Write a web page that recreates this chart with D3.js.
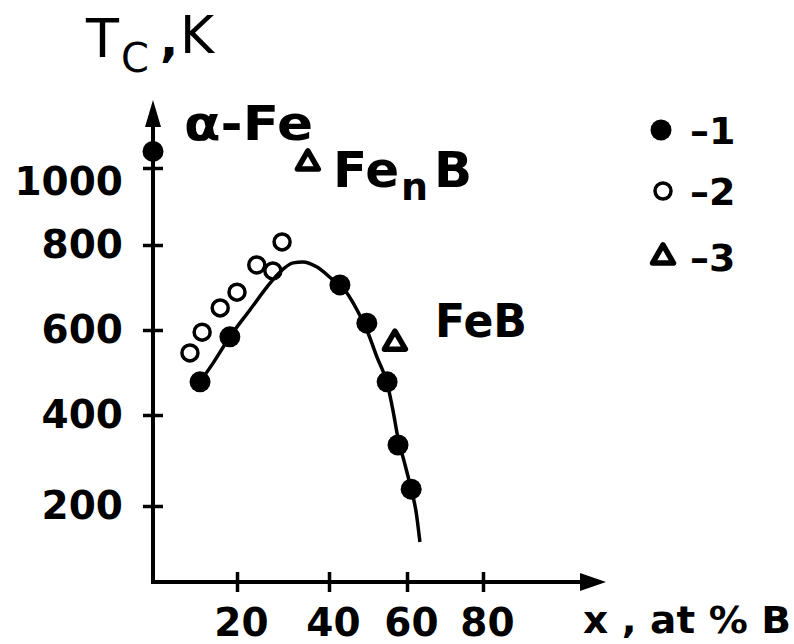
<!DOCTYPE html>
<html><head><meta charset="utf-8">
<script src="https://cdn.jsdelivr.net/npm/d3@7"></script>
<style>body{margin:0;background:#fff}svg{display:block}</style>
</head><body><svg id="c" width="794" height="644"></svg>
<script>
// ---- data ----
const xTickValues = [20, 40, 60, 80];
const yTickValues = [200, 400, 600, 800, 1000];
// series 1 (filled circles)
const series1X = [0, 11.2, 18.3, 42.8, 49.7, 54.9, 57.7, 61.1];
const series1Y = [1043, 478, 584, 706, 616, 478, 334, 237];
// series 2 (open circles)
const series2X = [8.8, 11.7, 16.0, 20.0, 24.3, 27.8, 29.8];
const series2Y = [546, 595, 652, 689, 753, 739, 808];
// series 3 (open triangles): Fe_nB, FeB
const series3X = [35.4, 56.9];
const series3Y = [1013, 569];
// fitted curve
const fitX = [11.2, 14.3, 18.3, 22.8, 26.5, 29.3, 32.2, 34.3, 37.4, 41.0, 43.6, 47.2, 49.7, 52.3, 54.9, 56.4, 57.7, 59.3, 61.1, 62.4, 63.4];
const fitY = [478, 522, 584, 647, 701, 736, 758, 760, 748, 718, 699, 647, 600, 536, 475, 411, 349, 297, 237, 187, 121];
const legendLabels = ["–1", "–2", "–3"];
const xAxisTitle = "x , at % B";

// ---- scales (hand-drawn original axes are unevenly spaced) ----
const x = d3.scaleLinear().domain([0, 20, 40, 60, 80]).range([153, 237, 329, 407, 483]);
const y = d3.scaleLinear().domain([200, 400, 600, 800, 1000]).range([506, 415, 330, 245, 168]);

const svg = d3.select("#c");
svg.append("rect").attr("width", 794).attr("height", 644).attr("fill", "#fff");
const FONT = "'DejaVu Sans', sans-serif";

// ---- axes ----
const x0 = x(0), yBase = 582;
svg.append("line").attr("x1", x0).attr("x2", x0).attr("y1", yBase + 2).attr("y2", 112)
  .attr("stroke", "#000").attr("stroke-width", 4);
svg.append("path").attr("d", `M${x0},100 L${x0-8},127 L${x0+8},127 Z`).attr("fill", "#000");
svg.append("line").attr("x1", x0 - 2).attr("x2", 590).attr("y1", yBase).attr("y2", yBase)
  .attr("stroke", "#000").attr("stroke-width", 4);
svg.append("path").attr("d", `M606,${yBase} L580,${yBase-9} L580,${yBase+9} Z`).attr("fill", "#000");

const gy = svg.append("g").attr("transform", `translate(${x0},0)`)
  .call(d3.axisLeft(y).tickValues(yTickValues).tickSize(10).tickPadding(20).tickFormat(d3.format("d")));
gy.select(".domain").remove();
gy.selectAll(".tick line").attr("x1", -10).attr("x2", 10).attr("stroke-width", 3.5);
gy.selectAll(".tick text").attr("font-family", FONT).attr("font-weight", "bold")
  .attr("font-size", 39).attr("fill", "#000")
  .attr("transform", d => d === 1000 ? "translate(0,14)" : null);

const gx = svg.append("g").attr("transform", `translate(0,${yBase})`)
  .call(d3.axisBottom(x).tickValues(xTickValues).tickSize(10).tickPadding(16));
gx.select(".domain").remove();
gx.selectAll(".tick line").attr("y1", -10).attr("y2", 10).attr("stroke-width", 3.5);
gx.selectAll(".tick text").attr("font-family", FONT).attr("font-weight", "bold")
  .attr("font-size", 39).attr("fill", "#000").attr("dx", 4);

// ---- titles ----
const tl = svg.append("text").attr("font-family", FONT).attr("fill", "#000");
tl.append("tspan").attr("x", 86).attr("y", 57).attr("font-size", 54).text("T");
tl.append("tspan").attr("x", 121).attr("y", 72).attr("font-size", 40).text("C");
tl.append("tspan").attr("x", 160).attr("y", 56).attr("font-size", 48).attr("font-weight", "bold").text(",");
tl.append("tspan").attr("x", 180).attr("y", 53).attr("font-size", 52).text("K");

svg.append("text").attr("x", 583).attr("y", 633).attr("font-family", FONT).attr("font-weight", "bold")
  .attr("font-size", 38).attr("textLength", 208).attr("lengthAdjust", "spacingAndGlyphs").text(xAxisTitle);

// ---- phase labels ----
svg.append("text").attr("x", 184).attr("y", 140).attr("font-family", FONT).attr("font-weight", "bold")
  .attr("font-size", 48).attr("textLength", 129).attr("lengthAdjust", "spacingAndGlyphs").text("α-Fe");
const fn = svg.append("text").attr("font-family", FONT).attr("font-weight", "bold").attr("fill", "#000");
fn.append("tspan").attr("x", 333).attr("y", 187).attr("font-size", 50).text("Fe");
fn.append("tspan").attr("x", 401).attr("y", 200).attr("font-size", 38).text("n");
fn.append("tspan").attr("x", 434).attr("y", 187).attr("font-size", 50).text("B");
svg.append("text").attr("x", 435).attr("y", 337).attr("font-family", FONT).attr("font-weight", "bold")
  .attr("font-size", 46).attr("textLength", 92).attr("lengthAdjust", "spacingAndGlyphs").text("FeB");

// ---- fitted curve ----
const fit = fitX.map((v, i) => [v, fitY[i]]);
svg.append("path").datum(fit)
  .attr("d", d3.line().x(d => x(d[0])).y(d => y(d[1])).curve(d3.curveMonotoneX))
  .attr("fill", "none").attr("stroke", "#000").attr("stroke-width", 3.5);

// ---- points ----
const s1 = series1X.map((v, i) => [v, series1Y[i]]);
const s2 = series2X.map((v, i) => [v, series2Y[i]]);
const s3 = series3X.map((v, i) => [v, series3Y[i]]);
svg.append("g").selectAll("circle").data(s2).join("circle")
  .attr("cx", d => x(d[0])).attr("cy", d => y(d[1])).attr("r", 8)
  .attr("fill", "none").attr("stroke", "#000").attr("stroke-width", 3.5);
svg.append("g").selectAll("circle").data(s1).join("circle")
  .attr("cx", d => x(d[0])).attr("cy", d => y(d[1])).attr("r", 10.5).attr("fill", "#000");
const tri = d3.symbol(d3.symbolTriangle).size(190);
svg.append("g").selectAll("path").data(s3).join("path")
  .attr("transform", d => `translate(${x(d[0])},${y(d[1])})`).attr("d", tri)
  .attr("fill", "#fff").attr("stroke", "#000").attr("stroke-width", 5.5).attr("stroke-linejoin", "round");

// ---- legend ----
const legY = [130, 191, 257];
const lg = svg.append("g");
lg.append("circle").attr("cx", 661).attr("cy", legY[0]).attr("r", 10.5).attr("fill", "#000");
lg.append("circle").attr("cx", 663).attr("cy", legY[1]).attr("r", 8).attr("fill", "none")
  .attr("stroke", "#000").attr("stroke-width", 3.5);
lg.append("path").attr("transform", `translate(663,${legY[2]})`).attr("d", tri)
  .attr("fill", "#fff").attr("stroke", "#000").attr("stroke-width", 5.5).attr("stroke-linejoin", "round");
lg.selectAll("text").data(legendLabels).join("text")
  .attr("x", 690).attr("y", (d, i) => legY[i]).attr("dy", "0.36em")
  .attr("font-family", FONT).attr("font-weight", "bold").attr("font-size", 38).text(d => d);
</script></body></html>
